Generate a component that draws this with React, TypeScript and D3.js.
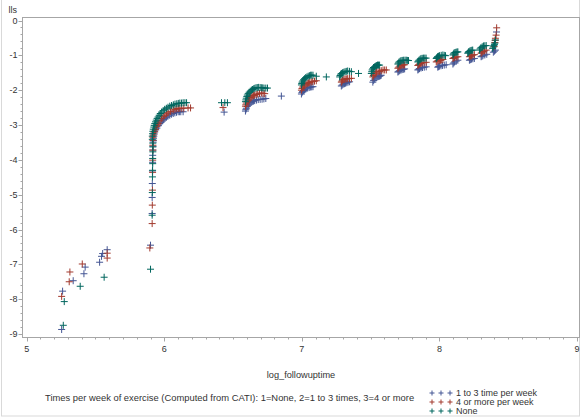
import React from "react";
import * as d3 from "d3";

// x: log_followuptime, y: lls
const xTickValues = [5, 6, 7, 8, 9];
const yTickValues = [0, -1, -2, -3, -4, -5, -6, -7, -8, -9];

const seriesNames = ["1 to 3 time per week", "4 or more per week", "None"];
const seriesColors = ["#445694", "#A23A2E", "#01665E"];

const legendTitle =
  "Times per week of exercise (Computed from CATI): 1=None, 2=1 to 3 times, 3=4 or more";

// 1 to 3 time per week
const oneToThree: [number, number][] = [
  [5.254, -8.87], [5.261, -7.77], [5.338, -7.47], [5.416, -7.27], [5.425, -7.08],
  [5.53, -6.94], [5.544, -6.77], [5.552, -6.69], [5.585, -6.58],
  [5.9, -6.45], [5.912, -5.54], [5.912, -5.08], [5.913, -4.68], [5.914, -4.32],
  [5.915, -4.07], [5.916, -3.87], [5.917, -3.72], [5.918, -3.61], [5.919, -3.49],
  [5.921, -3.44], [5.922, -3.38], [5.924, -3.32], [5.927, -3.26], [5.931, -3.2],
  [5.938, -3.14], [5.946, -3.09], [5.957, -3.02], [5.968, -2.96], [5.977, -2.92],
  [5.986, -2.88], [5.995, -2.84], [6.004, -2.81], [6.015, -2.78], [6.026, -2.75],
  [6.04, -2.72], [6.053, -2.69], [6.065, -2.67], [6.077, -2.65], [6.089, -2.635],
  [6.101, -2.62], [6.11, -2.62], [6.12, -2.62], [6.137, -2.62],
  [6.435, -2.63],
  [6.59, -2.6], [6.593, -2.56], [6.596, -2.52], [6.603, -2.47], [6.611, -2.43],
  [6.616, -2.4], [6.621, -2.37], [6.63, -2.35], [6.639, -2.33], [6.648, -2.315],
  [6.657, -2.3], [6.67, -2.285], [6.683, -2.27], [6.697, -2.265], [6.711, -2.26],
  [6.724, -2.25], [6.738, -2.24],
  [6.851, -2.17],
  [6.997, -2.11], [7.001, -2.07], [7.006, -2.04], [7.013, -2.01], [7.02, -1.98],
  [7.031, -1.96], [7.042, -1.94], [7.053, -1.925], [7.064, -1.91], [7.072, -1.905], [7.081, -1.9],
  [7.287, -1.88], [7.293, -1.855], [7.3, -1.83], [7.309, -1.815], [7.318, -1.8],
  [7.327, -1.785], [7.336, -1.77], [7.347, -1.76],
  [7.516, -1.77], [7.522, -1.72], [7.529, -1.68], [7.538, -1.65], [7.547, -1.62],
  [7.556, -1.61], [7.565, -1.6], [7.571, -1.585], [7.577, -1.57],
  [7.698, -1.48], [7.704, -1.46], [7.711, -1.44], [7.72, -1.425], [7.729, -1.41],
  [7.738, -1.4], [7.747, -1.39],
  [7.843, -1.42], [7.849, -1.4], [7.855, -1.38], [7.866, -1.365], [7.877, -1.35],
  [7.89, -1.34], [7.904, -1.33],
  [7.988, -1.34], [7.994, -1.325], [8.0, -1.31], [8.011, -1.3], [8.022, -1.29],
  [8.035, -1.28], [8.049, -1.27],
  [8.098, -1.25], [8.104, -1.22], [8.11, -1.19], [8.122, -1.165], [8.134, -1.14],
  [8.218, -1.14], [8.225, -1.125], [8.233, -1.11], [8.243, -1.1], [8.254, -1.09],
  [8.303, -1.04], [8.309, -1.025], [8.316, -1.01], [8.33, -0.99], [8.344, -0.97],
  [8.392, -0.91], [8.4, -0.88], [8.407, -0.85], [8.415, -0.33],
];

// 4 or more per week
const fourOrMore: [number, number][] = [
  [5.254, -7.92], [5.309, -7.5], [5.314, -7.22], [5.404, -6.99], [5.585, -6.68], [5.585, -6.82],
  [5.895, -6.53], [5.912, -5.83], [5.913, -5.3], [5.914, -4.87], [5.915, -4.36],
  [5.916, -4.01], [5.917, -3.72], [5.917, -3.58], [5.918, -3.44],
  [5.917, -3.35], [5.92, -3.29], [5.924, -3.23], [5.929, -3.18], [5.935, -3.13],
  [5.944, -3.05], [5.95, -3.0], [5.957, -2.95], [5.968, -2.88], [5.98, -2.81],
  [5.992, -2.76], [6.004, -2.72], [6.016, -2.68], [6.028, -2.65], [6.046, -2.61],
  [6.064, -2.57], [6.078, -2.55], [6.091, -2.53], [6.102, -2.525], [6.113, -2.52],
  [6.127, -2.52], [6.142, -2.52], [6.173, -2.51], [6.191, -2.51],
  [6.427, -2.5],
  [6.59, -2.46], [6.593, -2.42], [6.596, -2.37], [6.603, -2.33], [6.611, -2.29],
  [6.616, -2.25], [6.621, -2.21], [6.63, -2.19], [6.639, -2.17], [6.648, -2.155],
  [6.657, -2.14], [6.668, -2.125], [6.679, -2.11], [6.692, -2.095], [6.706, -2.08],
  [6.718, -2.09], [6.73, -2.1],
  [6.997, -2.0], [7.001, -1.95], [7.006, -1.91], [7.013, -1.88], [7.02, -1.85],
  [7.03, -1.83], [7.039, -1.81], [7.048, -1.795], [7.057, -1.78], [7.068, -1.765],
  [7.079, -1.75], [7.092, -1.74], [7.105, -1.73],
  [7.287, -1.77], [7.291, -1.74], [7.296, -1.71], [7.305, -1.695], [7.314, -1.68],
  [7.323, -1.675], [7.333, -1.67], [7.346, -1.665], [7.36, -1.66],
  [7.516, -1.62], [7.52, -1.58], [7.525, -1.54], [7.534, -1.51], [7.543, -1.48],
  [7.554, -1.47], [7.565, -1.46], [7.577, -1.44], [7.59, -1.42], [7.602, -1.42], [7.614, -1.42],
  [7.698, -1.37], [7.704, -1.34], [7.711, -1.31], [7.72, -1.295], [7.729, -1.28],
  [7.738, -1.275], [7.747, -1.27],
  [7.843, -1.29], [7.849, -1.27], [7.855, -1.25], [7.864, -1.235], [7.873, -1.22],
  [7.888, -1.21], [7.904, -1.2],
  [7.977, -1.19], [7.983, -1.17], [7.99, -1.15], [7.999, -1.145], [8.008, -1.14],
  [8.016, -1.13], [8.025, -1.12],
  [8.098, -1.09], [8.104, -1.075], [8.11, -1.06], [8.122, -1.05], [8.134, -1.04],
  [8.218, -1.04], [8.225, -1.025], [8.233, -1.01], [8.243, -0.995], [8.254, -0.98],
  [8.303, -0.94], [8.309, -0.915], [8.316, -0.89], [8.328, -0.87], [8.34, -0.85],
  [8.398, -0.75], [8.403, -0.63], [8.405, -0.57], [8.407, -0.51], [8.412, -0.42], [8.416, -0.21],
];

// None
const none: [number, number][] = [
  [5.266, -8.75], [5.273, -8.07], [5.389, -7.63], [5.563, -7.37],
  [5.9, -7.14], [5.912, -5.59], [5.913, -4.94], [5.914, -4.49], [5.915, -4.3],
  [5.916, -4.11], [5.916, -3.96], [5.917, -3.77], [5.917, -3.63], [5.917, -3.52], [5.913, -3.41],
  [5.913, -3.32], [5.915, -3.25], [5.917, -3.18], [5.92, -3.12], [5.924, -3.06],
  [5.927, -3.01], [5.931, -2.96], [5.936, -2.91], [5.942, -2.86], [5.948, -2.81],
  [5.955, -2.77], [5.963, -2.72], [5.971, -2.67], [5.981, -2.63], [5.992, -2.59],
  [6.003, -2.55], [6.015, -2.52], [6.027, -2.49], [6.04, -2.46], [6.053, -2.44],
  [6.066, -2.42], [6.078, -2.4], [6.091, -2.39], [6.102, -2.38], [6.113, -2.37],
  [6.125, -2.37], [6.137, -2.36], [6.15, -2.36], [6.162, -2.36],
  [6.416, -2.36], [6.44, -2.36], [6.459, -2.36],
  [6.59, -2.33], [6.593, -2.28], [6.596, -2.23], [6.6, -2.18], [6.604, -2.14],
  [6.61, -2.1], [6.617, -2.06], [6.625, -2.03], [6.633, -2.0], [6.641, -1.98],
  [6.65, -1.96], [6.658, -1.945], [6.667, -1.93], [6.676, -1.925], [6.686, -1.92],
  [6.697, -1.925], [6.708, -1.93], [6.716, -1.935], [6.725, -1.94], [6.738, -1.94], [6.75, -1.94],
  [6.997, -1.85], [6.999, -1.81], [7.002, -1.77], [7.007, -1.735], [7.013, -1.7],
  [7.02, -1.67], [7.028, -1.64], [7.037, -1.62], [7.046, -1.6], [7.055, -1.585],
  [7.064, -1.57], [7.072, -1.57], [7.081, -1.57], [7.105, -1.6],
  [7.178, -1.62],
  [7.275, -1.62], [7.278, -1.58], [7.282, -1.54], [7.289, -1.52], [7.296, -1.5],
  [7.305, -1.485], [7.314, -1.47], [7.323, -1.46], [7.333, -1.45], [7.346, -1.46], [7.36, -1.47],
  [7.412, -1.52],
  [7.505, -1.52], [7.508, -1.47], [7.511, -1.42], [7.516, -1.385], [7.521, -1.35],
  [7.528, -1.33], [7.536, -1.31], [7.543, -1.295], [7.55, -1.28], [7.557, -1.28], [7.565, -1.28],
  [7.698, -1.25], [7.702, -1.22], [7.707, -1.19], [7.714, -1.17], [7.721, -1.15],
  [7.73, -1.145], [7.74, -1.14], [7.75, -1.14], [7.759, -1.14], [7.767, -1.145], [7.775, -1.15],
  [7.843, -1.19], [7.847, -1.165], [7.852, -1.14], [7.859, -1.115], [7.866, -1.09],
  [7.875, -1.085], [7.885, -1.08], [7.894, -1.08], [7.903, -1.08],
  [7.977, -1.09], [7.981, -1.065], [7.986, -1.04], [7.993, -1.025], [8.001, -1.01],
  [8.013, -1.0], [8.025, -0.99], [8.035, -1.0], [8.044, -1.01],
  [8.098, -0.99], [8.102, -0.96], [8.107, -0.93], [8.114, -0.92], [8.121, -0.91],
  [8.128, -0.905], [8.134, -0.9],
  [8.206, -0.94], [8.21, -0.915], [8.214, -0.89], [8.221, -0.875], [8.229, -0.86],
  [8.236, -0.855], [8.242, -0.85],
  [8.291, -0.85], [8.296, -0.815], [8.302, -0.78], [8.311, -0.755], [8.32, -0.73],
  [8.33, -0.725], [8.34, -0.72],
  [8.387, -0.8], [8.391, -0.76], [8.396, -0.72], [8.4, -0.685], [8.403, -0.65], [8.407, -0.56],
];

const allSeries = [oneToThree, fourOrMore, none];

const W = 581;
const H = 419;
const FONT = "'Liberation Sans', Arial, sans-serif";

export default function App() {
  const frame = { left: 22.5, right: 579.5, top: 17.5, bottom: 337.5 };
  const x = d3.scaleLinear().domain([5, 9]).range([26.7, 577]);
  const y = d3.scaleLinear().domain([0, -9]).range([20.5, 334]);

  const xMinor = d3.range(50, 91).map((d) => d / 10);
  const yMinor = d3.range(0, 46).map((d) => -d / 5);

  const plus = (s: number) => `M${-s},0H${s}M0,${-s}V${s}`;

  return (
    <div style={{ position: "absolute", left: 0, top: 0 }}>
      <svg width={W} height={H} style={{ display: "block", background: "#fff" }}>
        <rect x={1.5} y={-2} width={578} height={418} fill="none" stroke="#d9d9d9" />
        {/* plot frame */}
        <rect
          x={frame.left}
          y={frame.top}
          width={frame.right - frame.left}
          height={frame.bottom - frame.top}
          fill="none"
          stroke="#a6a6a6"
          strokeWidth={1}
        />
        {/* y axis ticks */}
        {yMinor.map((v, i) => {
          const major = Math.abs(v - Math.round(v)) < 1e-9;
          const yy = Math.round(y(v)) + 0.5;
          return (
            <line
              key={"ym" + i}
              x1={frame.left}
              x2={frame.left - (major ? 4 : 2)}
              y1={yy}
              y2={yy}
              stroke="#a6a6a6"
            />
          );
        })}
        {yTickValues.map((v) => (
          <text
            key={"yt" + v}
            x={17.5}
            y={y(v)}
            dy="0.35em"
            textAnchor="end"
            fontFamily={FONT}
            fontSize={9}
            fill="#333"
          >
            {v}
          </text>
        ))}
        {/* x axis ticks */}
        {xMinor.map((v, i) => {
          const major = Math.abs(v - Math.round(v)) < 1e-9;
          const xx = Math.round(x(v)) + 0.5;
          return (
            <line
              key={"xm" + i}
              x1={xx}
              x2={xx}
              y1={frame.bottom}
              y2={frame.bottom + (major ? 4 : 2)}
              stroke="#a6a6a6"
            />
          );
        })}
        {xTickValues.map((v) => (
          <text
            key={"xt" + v}
            x={x(v)}
            y={349}
            dy="0.35em"
            textAnchor="middle"
            fontFamily={FONT}
            fontSize={9}
            fill="#333"
          >
            {v}
          </text>
        ))}
        <text x={8.5} y={9.5} dy="0.35em" fontFamily={FONT} fontSize={9} fill="#333">
          lls
        </text>
        <text
          x={(frame.left + frame.right) / 2}
          y={375}
          dy="0.35em"
          textAnchor="middle"
          fontFamily={FONT}
          fontSize={9.2}
          fill="#333"
        >
          log_followuptime
        </text>
        {/* points */}
        {allSeries.map((pts, si) => (
          <g key={"s" + si} stroke={seriesColors[si]} strokeWidth={1} fill="none">
            {pts.map((p, i) => (
              <path key={i} d={plus(3.5)} transform={`translate(${x(p[0])},${y(p[1])})`} />
            ))}
          </g>
        ))}
        {/* legend */}
        <text x={45} y={398} dy="0.35em" fontFamily={FONT} fontSize={9.4} fill="#333">
          {legendTitle}
        </text>
        {seriesNames.map((name, i) => {
          const ly = 393 + i * 9;
          return (
            <g key={"lg" + i}>
              {[0, 1, 2].map((k) => (
                <path
                  key={k}
                  d={plus(2.5)}
                  transform={`translate(${432 + k * 9},${ly})`}
                  stroke={seriesColors[i]}
                  fill="none"
                />
              ))}
              <text x={456} y={ly} dy="0.35em" fontFamily={FONT} fontSize={9} fill="#333">
                {name}
              </text>
            </g>
          );
        })}
      </svg>
    </div>
  );
}
